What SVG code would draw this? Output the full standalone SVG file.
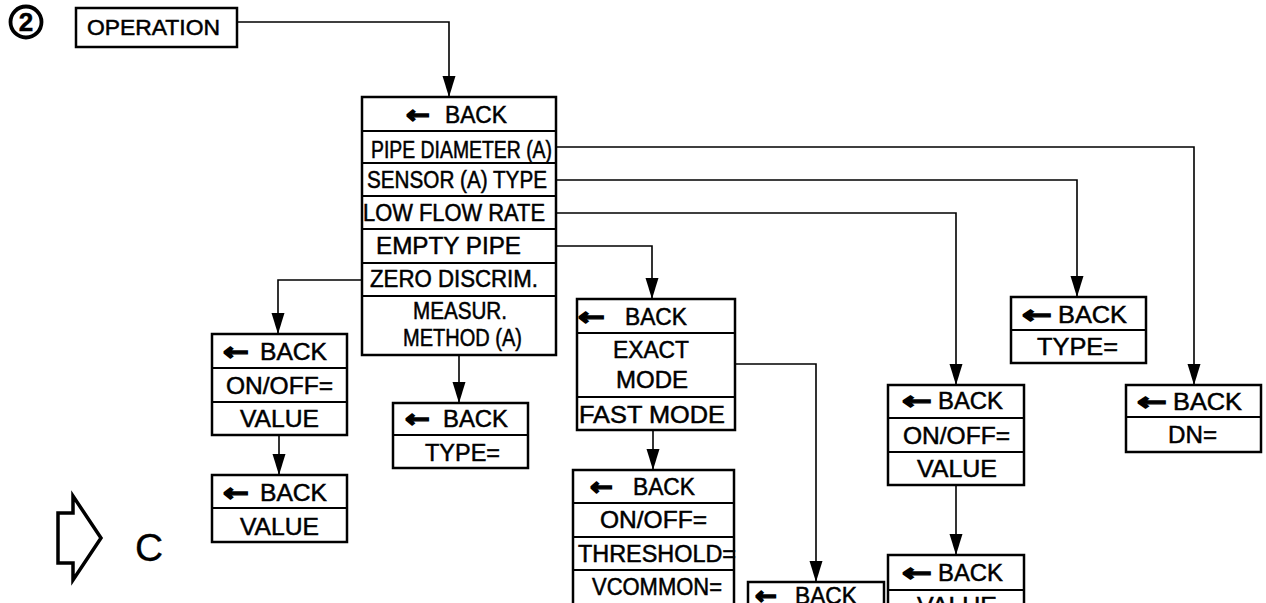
<svg xmlns="http://www.w3.org/2000/svg" width="1266" height="603" viewBox="0 0 1266 603">
<style>
.bx{fill:#fff;stroke:#000;stroke-width:2.5}
.sp{stroke:#000;stroke-width:2}
.t{font-family:"Liberation Sans",Arial,sans-serif;font-size:23px;fill:#000;stroke:#000;stroke-width:0.5}
.b{font-size:24px}
.ar{font-family:"DejaVu Sans",sans-serif;font-weight:bold;stroke-width:1.4}
.cn{fill:none;stroke:#000;stroke-width:1.6}
</style>
<defs>
<marker id="ah" markerUnits="userSpaceOnUse" markerWidth="22" markerHeight="14" refX="21" refY="7" orient="auto">
<path d="M0,0.5 L21,7 L0,13.5 z" fill="#000"/>
</marker>
</defs>
<g id="connectors">
<path class="cn" d="M237,22 H449 V97" marker-end="url(#ah)"/>
<path class="cn" d="M556,147 H1194 V385" marker-end="url(#ah)"/>
<path class="cn" d="M556,180 H1077 V297" marker-end="url(#ah)"/>
<path class="cn" d="M556,213 H956 V385" marker-end="url(#ah)"/>
<path class="cn" d="M556,246 H652 V299" marker-end="url(#ah)"/>
<path class="cn" d="M362,280 H278 V334" marker-end="url(#ah)"/>
<path class="cn" d="M459,355 V403" marker-end="url(#ah)"/>
<path class="cn" d="M735,364 H816 V582" marker-end="url(#ah)"/>
<path class="cn" d="M653,430 V470" marker-end="url(#ah)"/>
<path class="cn" d="M279,435 V475" marker-end="url(#ah)"/>
<path class="cn" d="M956,485 V555" marker-end="url(#ah)"/>
</g>
<g id="label-2">
<circle cx="26" cy="22" r="15.5" fill="none" stroke="#000" stroke-width="3.8"/>
<text class="t" x="26" y="31" text-anchor="middle" style="font-size:26px;font-weight:bold">2</text>
</g>
<g id="operation">
<rect class="bx" x="76" y="8" width="161" height="39"/>
<text class="t" x="87" y="35" style="font-size:22px" textLength="133" lengthAdjust="spacingAndGlyphs">OPERATION</text>
</g>
<g id="main-menu">
<rect class="bx" x="362" y="97" width="194" height="258"/>
<line class="sp" x1="362" y1="131" x2="556" y2="131"/>
<line class="sp" x1="362" y1="163" x2="556" y2="163"/>
<line class="sp" x1="362" y1="196" x2="556" y2="196"/>
<line class="sp" x1="362" y1="229" x2="556" y2="229"/>
<line class="sp" x1="362" y1="263" x2="556" y2="263"/>
<line class="sp" x1="362" y1="296" x2="556" y2="296"/>
<text class="t b" y="123"><tspan class="ar" x="406" textLength="24" lengthAdjust="spacingAndGlyphs">←</tspan> <tspan x="445" textLength="62" lengthAdjust="spacingAndGlyphs">BACK</tspan></text>
<text class="t" x="371" y="158" textLength="181" lengthAdjust="spacingAndGlyphs">PIPE DIAMETER (A)</text>
<text class="t" x="367" y="188" textLength="180" lengthAdjust="spacingAndGlyphs">SENSOR (A) TYPE</text>
<text class="t" x="363" y="221" textLength="182" lengthAdjust="spacingAndGlyphs">LOW FLOW RATE</text>
<text class="t b" x="376" y="254" textLength="145" lengthAdjust="spacingAndGlyphs">EMPTY PIPE</text>
<text class="t" x="370" y="287" textLength="168" lengthAdjust="spacingAndGlyphs">ZERO DISCRIM.</text>
<text class="t" x="413" y="319" textLength="94" lengthAdjust="spacingAndGlyphs">MEASUR.</text>
<text class="t" x="403" y="346" textLength="119" lengthAdjust="spacingAndGlyphs">METHOD (A)</text>
</g>
<g id="zero-discrim">
<rect class="bx" x="212" y="334" width="135" height="101"/>
<line class="sp" x1="212" y1="368" x2="347" y2="368"/>
<line class="sp" x1="212" y1="402" x2="347" y2="402"/>
<text class="t b" y="360"><tspan class="ar" x="223" textLength="26" lengthAdjust="spacingAndGlyphs">←</tspan> <tspan x="260" textLength="67" lengthAdjust="spacingAndGlyphs">BACK</tspan></text>
<text class="t b" x="226" y="394" textLength="107" lengthAdjust="spacingAndGlyphs">ON/OFF=</text>
<text class="t b" x="240" y="427" textLength="79" lengthAdjust="spacingAndGlyphs">VALUE</text>
</g>
<g id="zero-value">
<rect class="bx" x="212" y="475" width="135" height="67"/>
<line class="sp" x1="212" y1="508" x2="347" y2="508"/>
<text class="t b" y="501"><tspan class="ar" x="223" textLength="26" lengthAdjust="spacingAndGlyphs">←</tspan> <tspan x="260" textLength="67" lengthAdjust="spacingAndGlyphs">BACK</tspan></text>
<text class="t b" x="240" y="535" textLength="79" lengthAdjust="spacingAndGlyphs">VALUE</text>
</g>
<g id="measur-type">
<rect class="bx" x="393" y="403" width="135" height="65"/>
<line class="sp" x1="393" y1="435" x2="528" y2="435"/>
<text class="t b" y="427"><tspan class="ar" x="405" textLength="25" lengthAdjust="spacingAndGlyphs">←</tspan> <tspan x="443" textLength="65" lengthAdjust="spacingAndGlyphs">BACK</tspan></text>
<text class="t b" x="425" y="461" textLength="75" lengthAdjust="spacingAndGlyphs">TYPE=</text>
</g>
<g id="empty-pipe">
<rect class="bx" x="577" y="299" width="158" height="131"/>
<line class="sp" x1="577" y1="333" x2="735" y2="333"/>
<line class="sp" x1="577" y1="397" x2="735" y2="397"/>
<text class="t b" y="325"><tspan class="ar" x="578" textLength="27" lengthAdjust="spacingAndGlyphs">←</tspan> <tspan x="625" textLength="62" lengthAdjust="spacingAndGlyphs">BACK</tspan></text>
<text class="t b" x="613" y="358" textLength="76" lengthAdjust="spacingAndGlyphs">EXACT</text>
<text class="t b" x="616" y="388" textLength="72" lengthAdjust="spacingAndGlyphs">MODE</text>
<text class="t b" x="579" y="423" textLength="146" lengthAdjust="spacingAndGlyphs">FAST MODE</text>
</g>
<g id="fast-mode">
<rect class="bx" x="573" y="470" width="161" height="150"/>
<line class="sp" x1="573" y1="503" x2="734" y2="503"/>
<line class="sp" x1="573" y1="537" x2="734" y2="537"/>
<line class="sp" x1="573" y1="570" x2="734" y2="570"/>
<text class="t b" y="495"><tspan class="ar" x="590" textLength="23" lengthAdjust="spacingAndGlyphs">←</tspan> <tspan x="633" textLength="62" lengthAdjust="spacingAndGlyphs">BACK</tspan></text>
<text class="t b" x="600" y="528" textLength="107" lengthAdjust="spacingAndGlyphs">ON/OFF=</text>
<text class="t" x="578" y="562" textLength="158" lengthAdjust="spacingAndGlyphs">THRESHOLD=</text>
<text class="t" x="592" y="595" textLength="130" lengthAdjust="spacingAndGlyphs">VCOMMON=</text>
</g>
<g id="exact-mode">
<rect class="bx" x="748" y="582" width="136" height="60"/>
<text class="t b" y="604"><tspan class="ar" x="755" textLength="22" lengthAdjust="spacingAndGlyphs">←</tspan> <tspan x="795" textLength="62" lengthAdjust="spacingAndGlyphs">BACK</tspan></text>
</g>
<g id="low-flow">
<rect class="bx" x="888" y="385" width="136" height="100"/>
<line class="sp" x1="888" y1="418" x2="1024" y2="418"/>
<line class="sp" x1="888" y1="452" x2="1024" y2="452"/>
<text class="t b" y="409"><tspan class="ar" x="902" textLength="30" lengthAdjust="spacingAndGlyphs">←</tspan> <tspan x="938" textLength="65" lengthAdjust="spacingAndGlyphs">BACK</tspan></text>
<text class="t b" x="903" y="444" textLength="107" lengthAdjust="spacingAndGlyphs">ON/OFF=</text>
<text class="t b" x="917" y="477" textLength="80" lengthAdjust="spacingAndGlyphs">VALUE</text>
</g>
<g id="low-flow-value">
<rect class="bx" x="888" y="555" width="136" height="70"/>
<line class="sp" x1="888" y1="590" x2="1024" y2="590"/>
<text class="t b" y="581"><tspan class="ar" x="902" textLength="30" lengthAdjust="spacingAndGlyphs">←</tspan> <tspan x="938" textLength="65" lengthAdjust="spacingAndGlyphs">BACK</tspan></text>
<text class="t b" x="917" y="614" textLength="80" lengthAdjust="spacingAndGlyphs">VALUE</text>
</g>
<g id="sensor-type">
<rect class="bx" x="1011" y="297" width="135" height="66"/>
<line class="sp" x1="1011" y1="330" x2="1146" y2="330"/>
<text class="t b" y="323"><tspan class="ar" x="1022" textLength="30" lengthAdjust="spacingAndGlyphs">←</tspan> <tspan x="1058" textLength="69" lengthAdjust="spacingAndGlyphs">BACK</tspan></text>
<text class="t b" x="1037" y="355" textLength="81" lengthAdjust="spacingAndGlyphs">TYPE=</text>
</g>
<g id="pipe-diameter">
<rect class="bx" x="1126" y="385" width="135" height="67"/>
<line class="sp" x1="1126" y1="417" x2="1261" y2="417"/>
<text class="t b" y="410"><tspan class="ar" x="1137" textLength="30" lengthAdjust="spacingAndGlyphs">←</tspan> <tspan x="1173" textLength="69" lengthAdjust="spacingAndGlyphs">BACK</tspan></text>
<text class="t b" x="1168" y="443" textLength="49" lengthAdjust="spacingAndGlyphs">DN=</text>
</g>
<g id="continue-c">
<polygon points="58,513 73,513 73,496 101,538 73,580 73,563 58,563" fill="none" stroke="#000" stroke-width="3.5" stroke-linejoin="miter"/>
<text class="t" x="135" y="561" style="font-size:39px;stroke-width:0.3">C</text>
</g>
</svg>
